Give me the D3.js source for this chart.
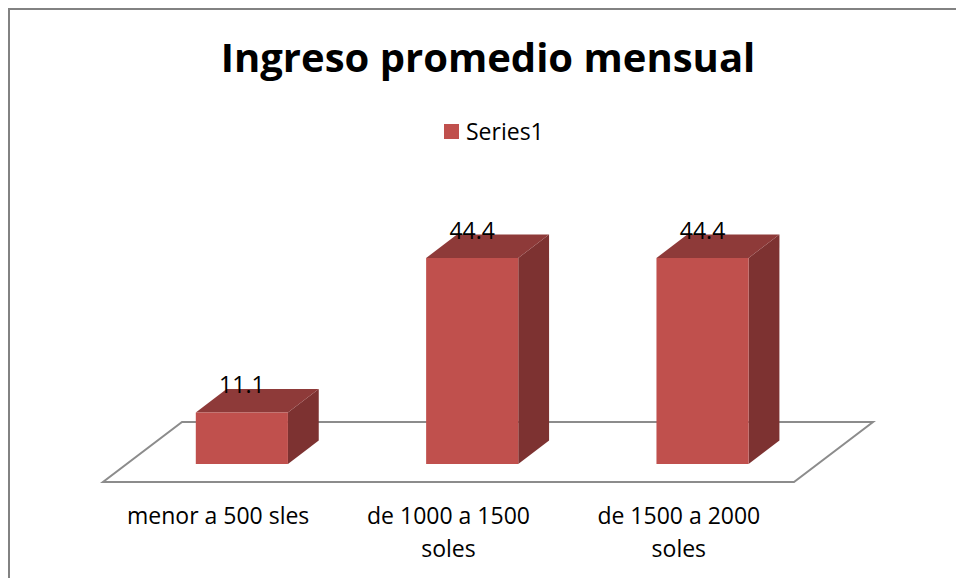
<!DOCTYPE html>
<html>
<head>
<meta charset="utf-8">
<script src="https://cdn.jsdelivr.net/npm/d3@7"></script>
<style>
  body { margin: 0; background: #fff; }
  svg { display: block; font-family: 'Open Sans', 'Noto Sans', sans-serif; }
</style>
</head>
<body>
<svg id="chart" width="956" height="578"></svg>
<script>
const categories = ['menor a 500 sles', 'de 1000 a 1500 soles', 'de 1500 a 2000 soles']
const values = [11.1, 44.4, 44.4]
const seriesName = 'Series1'
const chartTitle = 'Ingreso promedio mensual'

const svg = d3.select('#chart')

// chart area border (top / left edges visible)
svg.append('rect')
  .attr('x', 9).attr('y', 9)
  .attr('width', 1000).attr('height', 1000)
  .attr('fill', 'none')
  .attr('stroke', '#828282')
  .attr('stroke-width', 2)

// title
svg.append('text')
  .attr('x', 488).attr('y', 72)
  .attr('text-anchor', 'middle')
  .attr('font-weight', 700)
  .attr('font-size', 40)
  .attr('fill', '#000')
  .text(chartTitle)

// legend
const leg = svg.append('g')
leg.append('rect')
  .attr('x', 444).attr('y', 124)
  .attr('width', 15).attr('height', 15)
  .attr('fill', '#C0504D')
leg.append('text')
  .attr('x', 466).attr('y', 140)
  .attr('font-size', 23)
  .attr('fill', '#000')
  .text(seriesName)

// 3d floor geometry
const floorFront = 482
const depthDx = 79
const depthDy = -60
const x = d3.scaleBand()
  .domain(categories)
  .range([103, 794])
  .paddingInner(0.6)
  .paddingOuter(0.3)
const depth = d3.scaleLinear().domain([0, 1]).range([0, 1])
const h = d3.scaleLinear().domain([0, 50]).range([0, 232])

const px = (u, d) => u + depth(d) * depthDx
const py = (v, d) => floorFront + depth(d) * depthDy - v
const poly = pts => pts.map(p => p.join(',')).join(' ')

// floor
svg.append('polygon')
  .attr('points', poly([[px(103, 0), py(0, 0)], [px(794, 0), py(0, 0)], [px(794, 1), py(0, 1)], [px(103, 1), py(0, 1)]]))
  .attr('fill', 'none')
  .attr('stroke', '#8c8c8c')
  .attr('stroke-width', 2)

const d0 = 0.3
const d1 = 0.69
const data = categories.map((c, i) => ({ c, v: values[i] }))

const bars = svg.selectAll('g.bar')
  .data(data)
  .enter().append('g').attr('class', 'bar')

// side face
bars.append('polygon')
  .attr('points', d => {
    const r = x(d.c) + x.bandwidth()
    return poly([[px(r, d0), py(0, d0)], [px(r, d1), py(0, d1)], [px(r, d1), py(h(d.v), d1)], [px(r, d0), py(h(d.v), d0)]])
  })
  .attr('fill', '#7D3231')
// top face
bars.append('polygon')
  .attr('points', d => {
    const l = x(d.c)
    const r = l + x.bandwidth()
    return poly([[px(l, d0), py(h(d.v), d0)], [px(r, d0), py(h(d.v), d0)], [px(r, d1), py(h(d.v), d1)], [px(l, d1), py(h(d.v), d1)]])
  })
  .attr('fill', '#8E3A39')
// front face
bars.append('polygon')
  .attr('points', d => {
    const l = x(d.c)
    const r = l + x.bandwidth()
    return poly([[px(l, d0), py(0, d0)], [px(r, d0), py(0, d0)], [px(r, d0), py(h(d.v), d0)], [px(l, d0), py(h(d.v), d0)]])
  })
  .attr('fill', '#C0504D')

// data labels
bars.append('text')
  .attr('x', d => px(x(d.c) + x.bandwidth() / 2, d0))
  .attr('y', d => py(h(d.v), d0) - 19)
  .attr('text-anchor', 'middle')
  .attr('font-size', 23)
  .attr('fill', '#000')
  .text(d => d.v)

// category labels, wrapped
const labels = svg.selectAll('text.cat')
  .data(categories)
  .enter().append('text').attr('class', 'cat')
  .attr('text-anchor', 'middle')
  .attr('font-size', 23)
  .attr('fill', '#000')

labels.each(function (c) {
  const t = d3.select(this)
  const cx = x(c) + x.bandwidth() / 2
  const words = c.split(' ')
  let line = []
  let lineNo = 0
  let tspan = t.append('tspan').attr('x', cx).attr('y', 524)
  words.forEach(w => {
    line.push(w)
    tspan.text(line.join(' '))
    if (tspan.node().getComputedTextLength() > 200 && line.length > 1) {
      line.pop()
      tspan.text(line.join(' '))
      line = [w]
      lineNo++
      tspan = t.append('tspan').attr('x', cx).attr('y', 524 + lineNo * 33).text(w)
    }
  })
})
</script>
</body>
</html>
